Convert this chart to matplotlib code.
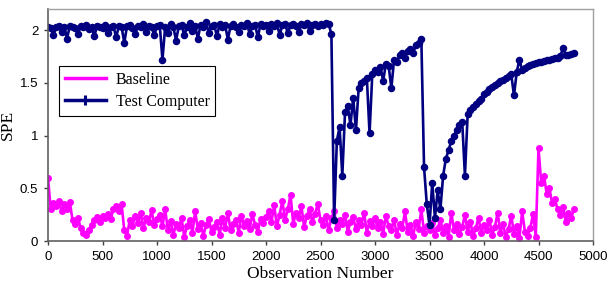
import numpy as np
import matplotlib
matplotlib.use("Agg")
import matplotlib.pyplot as plt
from matplotlib.lines import Line2D

step = 25  # observation spacing of the sampled values

test_computer = [
    2.03, 2.02, 1.95, 2.03, 2.04, 1.98, 2.03, 1.92, 2.04, 2.03,
    2.02, 1.96, 2.04, 2.03, 2.05, 2.01, 2.03, 1.94, 2.04, 2.03,
    2.02, 2.05, 1.97, 2.03, 2.04, 1.93, 2.04, 2.03, 1.88, 2.04,
    2.05, 2.02, 1.96, 2.04, 2.03, 2.06, 1.98, 2.04, 2.03, 1.95,
    2.04, 2.05, 1.72, 2.03, 1.97, 2.06, 2.03, 1.90, 2.04, 2.05,
    1.95, 2.03, 2.07, 1.99, 2.04, 1.92, 2.05, 2.03, 2.08, 1.97,
    2.04, 2.05, 1.94, 2.06, 2.03, 2.05, 1.91, 2.04, 2.06, 2.03,
    1.98, 2.05, 2.04, 2.07, 1.96, 2.04, 2.05, 1.93, 2.06, 2.04,
    2.05, 1.99, 2.06, 2.04, 2.07, 1.95, 2.05, 2.06, 1.97, 2.05,
    2.06, 2.04, 1.98, 2.06, 2.05, 2.07, 1.99, 2.05, 2.06, 2.04,
    2.06, 2.05, 2.07, 2.06, 1.96,
    0.20, 0.95, 1.08, 0.62, 1.22, 1.28, 1.10, 1.36, 1.05, 1.45,
    1.50, 1.52, 1.55, 1.02, 1.58, 1.62, 1.60, 1.65, 1.52, 1.68,
    1.66, 1.45, 1.72, 1.70, 1.76, 1.78, 1.74, 1.80, 1.82, 1.78,
    1.86, 1.88, 1.92,
    0.70, 0.35, 0.15, 0.55, 0.22, 0.48, 0.30, 0.62, 0.78, 0.86,
    0.95, 1.00, 1.05, 1.10, 1.13, 0.62, 1.20, 1.24, 1.27, 1.30,
    1.33, 1.35, 1.39, 1.41, 1.44, 1.46, 1.48, 1.50, 1.52, 1.53,
    1.55, 1.56, 1.58, 1.38, 1.60, 1.72, 1.62, 1.64, 1.66, 1.67,
    1.68, 1.69, 1.70, 1.70, 1.71, 1.72, 1.72, 1.73, 1.74, 1.74,
    1.75, 1.83, 1.76, 1.76, 1.77, 1.78,
]

baseline = [
    0.60, 0.30, 0.36, 0.33, 0.38, 0.28, 0.35, 0.30, 0.37,
    0.20, 0.16, 0.22, 0.12, 0.08, 0.06, 0.10, 0.15,
    0.20, 0.23, 0.18, 0.24, 0.22, 0.26, 0.21, 0.30,
    0.33, 0.28, 0.35, 0.10,
    0.05, 0.20, 0.14, 0.24, 0.17, 0.27, 0.12, 0.22, 0.18, 0.29, 0.15, 0.21,
    0.25, 0.14, 0.30, 0.10, 0.19, 0.06, 0.16, 0.12, 0.22, 0.04,
    0.14, 0.20, 0.08, 0.28, 0.11, 0.17, 0.05, 0.15, 0.21, 0.09,
    0.13, 0.18, 0.06, 0.22, 0.12, 0.27, 0.10, 0.16, 0.20, 0.08,
    0.24, 0.14, 0.19, 0.11, 0.26, 0.15, 0.09, 0.21, 0.17, 0.23,
    0.28, 0.18, 0.34, 0.14, 0.25, 0.38, 0.20, 0.30, 0.44, 0.16,
    0.27, 0.22, 0.33, 0.13, 0.24, 0.30, 0.18, 0.26, 0.35, 0.20,
    0.15, 0.24, 0.10, 0.22, 0.28, 0.12, 0.20, 0.16, 0.25, 0.09,
    0.18, 0.23, 0.11, 0.20, 0.15, 0.27, 0.08, 0.19, 0.14, 0.22,
    0.12, 0.18, 0.07, 0.24, 0.14, 0.10, 0.20, 0.06, 0.16, 0.12,
    0.28, 0.09, 0.15, 0.05, 0.18, 0.11, 0.30, 0.08, 0.14, 0.10,
    0.17, 0.06, 0.12, 0.20, 0.08, 0.14, 0.04, 0.27, 0.10, 0.16,
    0.07, 0.13, 0.25, 0.09, 0.18, 0.05, 0.12, 0.22, 0.08, 0.15,
    0.10, 0.20, 0.06, 0.13, 0.27, 0.08, 0.16, 0.04, 0.11, 0.24,
    0.07, 0.14, 0.03, 0.28, 0.09, 0.05, 0.12, 0.26, 0.04,
    0.88, 0.55, 0.62, 0.45, 0.50, 0.36, 0.40, 0.30, 0.25, 0.32,
    0.18, 0.27, 0.22, 0.30,
]

x_ticks = [0, 500, 1000, 1500, 2000, 2500, 3000, 3500, 4000, 4500, 5000]
y_ticks = [0, 0.5, 1, 1.5, 2]
y_tick_labels = ["0", "0.5", "1", "1.5", "2"]

MAG = "#FF00FF"
NAVY = "#000080"

fig = plt.figure(figsize=(6.08, 2.96), dpi=100)
ax = fig.add_axes([48 / 608, 1 - 241 / 296, 545 / 608, 232 / 296])

xb = np.arange(len(baseline)) * step
xt = np.arange(len(test_computer)) * step
ax.plot(xb, baseline, color=MAG, lw=1.9, marker="o", ms=4.0, mec=MAG, mfc=MAG)
ax.plot(xt, test_computer, color=NAVY, lw=1.9, marker="o", ms=4.4, mec=NAVY, mfc=NAVY)

ax.set_xlim(0, 5000)
ax.set_ylim(0, 2.2)
ax.set_xticks(x_ticks)
ax.set_xticklabels([str(v) for v in x_ticks], family="Liberation Sans", fontsize=9.5)
ax.set_yticks(y_ticks)
ax.set_yticklabels(y_tick_labels, family="Liberation Sans", fontsize=9.5)
ax.tick_params(direction="out", length=3, width=1, colors="#404040", labelcolor="black", pad=4)

for s in ["left", "bottom"]:
    ax.spines[s].set_color("#606060")
    ax.spines[s].set_linewidth(1.2)
for s in ["top", "right"]:
    ax.spines[s].set_color("#A0A0A0")
    ax.spines[s].set_linewidth(1.0)

ax.set_xlabel("Observation Number", family="Liberation Serif", fontsize=12.5, labelpad=2)
ax.set_ylabel("SPE", family="Liberation Serif", fontsize=12.5, labelpad=3)

handles = [
    Line2D([], [], color=MAG, lw=2.5),
    Line2D([], [], color=NAVY, lw=2.5, marker="+", ms=7, mew=2.2),
]
leg = ax.legend(handles, ["Baseline", "Test Computer"], loc="upper left",
                bbox_to_anchor=(11 / 545, 175 / 232), borderaxespad=0,
                fancybox=False, frameon=True,
                edgecolor="black", framealpha=1, borderpad=0.35, handlelength=2.6,
                handletextpad=0.6, labelspacing=0.4,
                prop={"family": "Liberation Serif", "size": 11.5})
leg.get_frame().set_linewidth(0.8)

fig.savefig("out.png", dpi=100)
